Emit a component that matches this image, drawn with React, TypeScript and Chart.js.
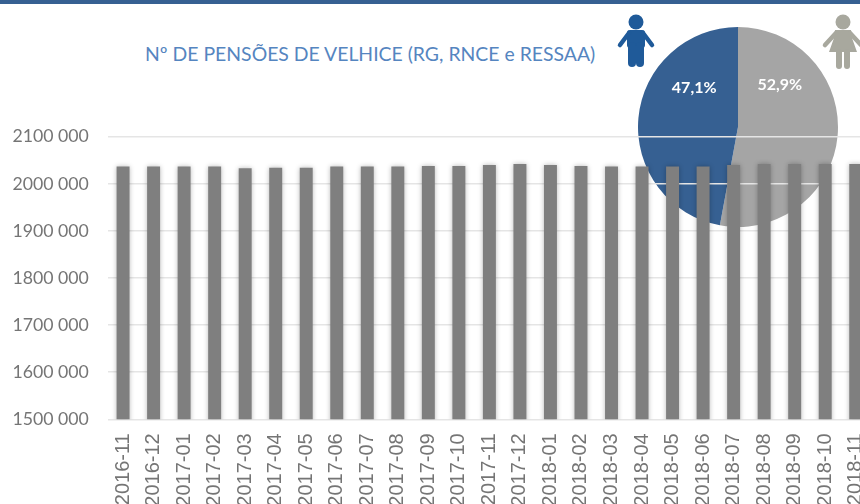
import React, { useEffect, useRef } from "react";
import { Chart, registerables } from "chart.js";

Chart.register(...registerables);

const months = [
  "2016-11", "2016-12", "2017-01", "2017-02", "2017-03", "2017-04", "2017-05", "2017-06", "2017-07",
  "2017-08", "2017-09", "2017-10", "2017-11", "2017-12", "2018-01", "2018-02", "2018-03", "2018-04",
  "2018-05", "2018-06", "2018-07", "2018-08", "2018-09", "2018-10", "2018-11",
];
const pensions = [
  2035800, 2035800, 2035800, 2035800, 2032300, 2033600, 2033600, 2035800, 2035800,
  2035800, 2037200, 2037200, 2039300, 2041500, 2039300, 2037200, 2035800, 2035800,
  2035800, 2035800, 2039300, 2041500, 2041500, 2041500, 2041500,
];
const genderLabels = ["Mulheres", "Homens"];
const genderShares = [52.9, 47.1];
const titleText = "Nº DE PENSÕES DE VELHICE (RG, RNCE e RESSAA)";

const PLOT_TOP = 136.7;
const PLOT_BOTTOM = 419.3;
const PLOT_LEFT = 107.8;
const CANVAS_W = 871;
const CANVAS_H = 560;

const shadowPlugin = {
  id: "barShadow",
  beforeDatasetsDraw(chart: any) {
    const c = chart.ctx;
    c.save();
    c.shadowColor = "rgba(0,0,0,0.28)";
    c.shadowBlur = 5;
    c.shadowOffsetX = 0;
    c.shadowOffsetY = 0;
  },
  afterDatasetsDraw(chart: any) {
    chart.ctx.restore();
  },
};

const pieLabelOffsets = [
  { dx: -2, dy: -2 },
  { dx: 0, dy: 1 },
];
const pieLabelPlugin = {
  id: "pieLabels",
  afterDatasetsDraw(chart: any) {
    const c = chart.ctx;
    const meta = chart.getDatasetMeta(0);
    c.save();
    c.font = "bold 16px Lato";
    c.fillStyle = "#ffffff";
    c.textAlign = "center";
    c.textBaseline = "middle";
    meta.data.forEach((arc: any, i: number) => {
      const p = arc.tooltipPosition();
      const cx = arc.x;
      const cy = arc.y;
      const value = chart.data.datasets[0].data[i];
      const text = value.toFixed(1).replace(".", ",") + "%";
      // pulled toward the upper half of each slice, as in the reference
      const x = cx + (p.x - cx) * 0.88 + pieLabelOffsets[i].dx;
      const y = cy - 40 + pieLabelOffsets[i].dy;
      c.fillText(text, x, y);
    });
    c.restore();
  },
};

export default function App() {
  const barRef = useRef<HTMLCanvasElement>(null);
  const pieRef = useRef<HTMLCanvasElement>(null);

  useEffect(() => {
    const pie = new Chart(pieRef.current!, {
      type: "pie",
      data: {
        labels: genderLabels,
        datasets: [{ data: genderShares, backgroundColor: ["#a5a5a5", "#366092"], borderWidth: 0 }],
      },
      options: {
        responsive: false,
        animation: false,
        layout: { padding: 0 },
        plugins: { legend: { display: false }, tooltip: { enabled: false } },
      },
      plugins: [pieLabelPlugin],
    } as any);

    const bar = new Chart(barRef.current!, {
      type: "bar",
      data: {
        labels: months,
        datasets: [{ data: pensions, backgroundColor: "#7f7f7f", barThickness: 12.3, borderWidth: 0 }],
      },
      options: {
        responsive: false,
        animation: false,
        layout: { padding: { top: PLOT_TOP, left: 0, right: 0, bottom: 0 } },
        plugins: { legend: { display: false }, tooltip: { enabled: false } },
        scales: {
          x: {
            grid: { display: false },
            border: { display: false },
            afterFit(s: any) {
              s.height = CANVAS_H - PLOT_BOTTOM;
              s.paddingLeft = 0;
              s.paddingRight = 0;
            },
            ticks: {
              autoSkip: false,
              minRotation: 90,
              maxRotation: 90,
              padding: 6,
              color: "#757575",
              font: { family: "Liberation Sans", size: 20 },
            },
          },
          y: {
            min: 1500000,
            max: 2100000,
            afterFit(s: any) {
              s.width = PLOT_LEFT;
            },
            border: { display: false },
            grid: { color: "#e5e5e5", lineWidth: 1.5, drawTicks: false },
            ticks: {
              stepSize: 100000,
              padding: 19,
              color: "#757575",
              font: { family: "Lato", size: 17.7 },
              callback(v: any) {
                const n = Number(v);
                return Math.floor(n / 1000) + " " + String(n % 1000).padStart(3, "0");
              },
            },
          },
        },
      },
      plugins: [shadowPlugin],
    } as any);

    return () => {
      bar.destroy();
      pie.destroy();
    };
  }, []);

  return (
    <div style={{ position: "fixed", left: 0, top: 0, width: 860, height: 504, overflow: "hidden", background: "#fff" }}>
      <div style={{ position: "absolute", left: 0, top: 0, width: 860, height: 4, background: "#366092" }} />
      <div
        style={{
          position: "absolute",
          left: 145,
          top: 41,
          whiteSpace: "nowrap",
          font: "19.4px/26px Lato",
          color: "#5585c0",
        }}
      >
        {titleText}
      </div>
      <svg width={860} height={80} style={{ position: "absolute", left: 0, top: 0 }}>
        <g fill="#1f5a99" stroke="#1f5a99" strokeLinecap="round">
          <circle cx={636} cy={22} r={7.5} stroke="none" />
          <rect x={627} y={30} width={18} height={18} rx={3} stroke="none" />
          <line x1={629} y1={33} x2={620} y2={45} strokeWidth={4.5} />
          <line x1={643} y1={33} x2={652} y2={45} strokeWidth={4.5} />
          <line x1={632} y1={46} x2={632} y2={63} strokeWidth={8} />
          <line x1={640} y1={46} x2={640} y2={63} strokeWidth={8} />
        </g>
        <g fill="#a8a89e" stroke="#a8a89e" strokeLinecap="round">
          <circle cx={843} cy={22} r={7.5} stroke="none" />
          <polygon points="835,30 851,30 852,38 857,52 829,52 834,38" stroke="none" />
          <line x1={836} y1={33} x2={825} y2={45} strokeWidth={4.5} />
          <line x1={850} y1={33} x2={861} y2={45} strokeWidth={4.5} />
          <line x1={839} y1={52} x2={839} y2={66} strokeWidth={6} />
          <line x1={847} y1={52} x2={847} y2={66} strokeWidth={6} />
        </g>
      </svg>
      <canvas ref={pieRef} width={200} height={200} style={{ position: "absolute", left: 638, top: 27, width: 200, height: 200 }} />
      <canvas ref={barRef} width={CANVAS_W} height={CANVAS_H} style={{ position: "absolute", left: 0, top: 0, width: CANVAS_W, height: CANVAS_H }} />
    </div>
  );
}
